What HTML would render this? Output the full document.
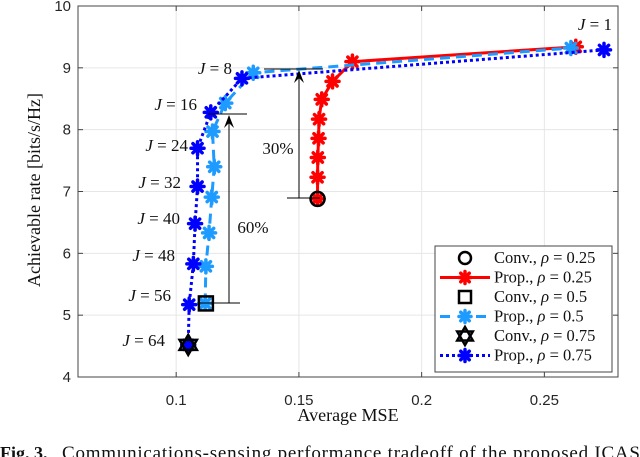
<!DOCTYPE html>
<html><head><meta charset="utf-8"><style>
body{margin:0;background:#fff;width:640px;height:457px;overflow:hidden}
svg{display:block}
.tk{font-family:"Liberation Sans",sans-serif;font-size:15px;fill:#262626}
.sr{font-family:"Liberation Serif",serif;fill:#111}
</style></head><body>
<svg id="chart" width="640" height="457" xmlns="http://www.w3.org/2000/svg"></svg>
<script>
const xTicks=[0.1,0.15,0.2,0.25];
const xTickLabels=["0.1","0.15","0.2","0.25"];
const yTicks=[4,5,6,7,8,9,10];
const yTickLabels=["4","5","6","7","8","9","10"];
const redX=[0.1576,0.1576,0.1577,0.158,0.1582,0.1593,0.1637,0.1718,0.2628];
const redY=[6.88,7.23,7.55,7.86,8.17,8.49,8.78,9.10,9.34];
const lbX=[0.1118,0.1121,0.1134,0.1145,0.1155,0.1148,0.120,0.1314,0.2608];
const lbY=[5.19,5.79,6.33,6.91,7.40,7.97,8.43,8.92,9.32];
const dbX=[0.1049,0.1053,0.107,0.1077,0.1087,0.1087,0.1141,0.1268,0.2743];
const dbY=[4.52,5.17,5.83,6.48,7.08,7.70,8.28,8.83,9.29];
const convX=[0.1576,0.1121,0.1049];
const convY=[6.88,5.19,4.52];
const jLabels=["J = 8","J = 16","J = 24","J = 32","J = 40","J = 48","J = 56","J = 64"];

const X0=78,X1=618,Y0=377,Y1=6;
const sx=v=>X0+(v-0.06)/(0.28-0.06)*(X1-X0);
const sy=v=>Y0-(v-4)/(10-4)*(Y0-Y1);
const svg=document.getElementById('chart');
const NS="http://www.w3.org/2000/svg";
function mk(tag,attrs,parent){const e=document.createElementNS(NS,tag);for(const k in attrs)e.setAttribute(k,attrs[k]);(parent||svg).appendChild(e);return e;}

const bg=mk('rect',{x:X0,y:Y1,width:X1-X0,height:Y0-Y1,fill:'#fff'});


xTicks.forEach((v,i)=>{
  const g=mk('line',{x1:sx(v),x2:sx(v),y1:Y1,y2:Y0,stroke:'#e6e6e6','stroke-width':1});
  
  
  mk('line',{x1:sx(v),x2:sx(v),y1:Y0,y2:Y0-5,stroke:'#444'});
  mk('line',{x1:sx(v),x2:sx(v),y1:Y1,y2:Y1+5,stroke:'#444'});
  const t=mk('text',{x:sx(v),y:Y0+28,'text-anchor':'middle',class:'tk'});t.textContent=xTickLabels[i];
  
  
});
yTicks.forEach((v,i)=>{
  const g=mk('line',{x1:X0,x2:X1,y1:sy(v),y2:sy(v),stroke:'#e6e6e6','stroke-width':1});
  
  
  mk('line',{x1:X0,x2:X0+5,y1:sy(v),y2:sy(v),stroke:'#444'});
  mk('line',{x1:X1,x2:X1-5,y1:sy(v),y2:sy(v),stroke:'#444'});
  const t=mk('text',{x:X0-7,y:sy(v)+5,'text-anchor':'end',class:'tk'});t.textContent=yTickLabels[i];
  
  
});
const fr=mk('rect',{x:X0,y:Y1,width:X1-X0,height:Y0-Y1,fill:'none',stroke:'#444','stroke-width':1});



function ast(cx,cy,col,r,parent){
  const g=mk('g',{},parent);
  for(let k=0;k<4;k++){const a=k*Math.PI/4;
    mk('line',{x1:cx-r*Math.cos(a),y1:cy-r*Math.sin(a),x2:cx+r*Math.cos(a),y2:cy+r*Math.sin(a),stroke:col,'stroke-width':3.5,'stroke-linecap':'round'},g);}
  mk('circle',{cx:cx,cy:cy,r:r*0.7,fill:col},g);
  return g;
}
function series(xs,ys,col,dash,name){
  const pts=xs.map((v,i)=>sx(v)+','+sy(ys[i])).join(' ');
  const l=mk('polyline',{points:pts,fill:'none',stroke:col,'stroke-width':3,'stroke-dasharray':dash});
  
  
  xs.forEach((v,i)=>{const m=ast(sx(v),sy(ys[i]),col,6.5);
    
    });
}
series(redX,redY,'#ff0000','none','prop-rho-025');
series(lbX,lbY,'#1e9bff','10,6','prop-rho-05');
series(dbX,dbY,'#0000ff','3,3','prop-rho-075');

function hexagram(cx,cy,r,parent){
  const p1=[],p2=[];
  for(let k=0;k<3;k++){const a=-Math.PI/2+k*2*Math.PI/3;p1.push((cx+r*Math.cos(a))+','+(cy+r*Math.sin(a)));
    const b=Math.PI/2+k*2*Math.PI/3;p2.push((cx+r*Math.cos(b))+','+(cy+r*Math.sin(b)));}
  const g=mk('g',{},parent);
  mk('polygon',{points:p1.join(' '),fill:'none',stroke:'#000','stroke-width':2.5},g);
  mk('polygon',{points:p2.join(' '),fill:'none',stroke:'#000','stroke-width':2.5},g);
  return g;
}
const c1=mk('circle',{cx:sx(convX[0]),cy:sy(convY[0]),r:7,fill:'none',stroke:'#000','stroke-width':2.5});


const s1=mk('rect',{x:sx(convX[1])-7,y:sy(convY[1])-7,width:14,height:14,fill:'none',stroke:'#000','stroke-width':2.5});


const h1=hexagram(sx(convX[2]),sy(convY[2]),10);



function arrow(x,yb,yt,hl,hr,bl,br,name){
  const g=mk('g',{});
  
  
  mk('line',{x1:x,x2:x,y1:yb,y2:yt+2,stroke:'#000','stroke-width':1},g);
  mk('line',{x1:hl,x2:hr,y1:yt,y2:yt,stroke:'#000','stroke-width':1},g);
  mk('line',{x1:bl,x2:br,y1:yb,y2:yb,stroke:'#000','stroke-width':1},g);
  mk('path',{d:`M${x-5},${yt+14} L${x},${yt+1} L${x+5},${yt+14} L${x},${yt+9} Z`,fill:'#000'},g);
}
arrow(299,198,69,264,323,287,320,'arrow-30-percent');
arrow(229,303,114,208,247,200,240,'arrow-60-percent');
const t30=mk('text',{x:278,y:154,'text-anchor':'middle',class:'sr','font-size':17});t30.textContent='30%';


const t60=mk('text',{x:253,y:233,'text-anchor':'middle',class:'sr','font-size':17});t60.textContent='60%';



const jPos=[[232,74],[197,110],[188,151],[181,188],[180,224],[175,261],[171,301],[165,346]];
jLabels.forEach((s,i)=>{
  const t=mk('text',{x:jPos[i][0],y:jPos[i][1],'text-anchor':'end',class:'sr','font-size':17});
  t.innerHTML='<tspan font-style="italic">J</tspan> = '+s.split('= ')[1];
  
  
});
const j1=mk('text',{x:612,y:30,'text-anchor':'end',class:'sr','font-size':17});
j1.innerHTML='<tspan font-style="italic">J</tspan> = 1';



const lg=mk('g',{});


mk('rect',{x:435,y:246,width:177,height:126,fill:'#fff',stroke:'#444','stroke-width':1},lg);
const legTxt=['Conv., ','Prop., ','Conv., ','Prop., ','Conv., ','Prop., '];
const legVal=['0.25','0.25','0.5','0.5','0.75','0.75'];
legTxt.forEach((s,i)=>{
  const y=258+i*19.5;
  const e=mk('g',{},lg);
  
  
  if(i==0) mk('circle',{cx:465,cy:y,r:6,fill:'none',stroke:'#000','stroke-width':2.5},e);
  if(i==2) mk('rect',{x:459,y:y-6,width:12,height:12,fill:'none',stroke:'#000','stroke-width':2.5},e);
  if(i==4) hexagram(465,y,9,e);
  if(i==1){mk('line',{x1:440,x2:490,y1:y,y2:y,stroke:'#ff0000','stroke-width':3},e);ast(465,y,'#ff0000',6,e);}
  if(i==3){mk('line',{x1:440,x2:490,y1:y,y2:y,stroke:'#1e9bff','stroke-width':3,'stroke-dasharray':'10,8'},e);ast(465,y,'#1e9bff',6,e);}
  if(i==5){mk('line',{x1:440,x2:490,y1:y,y2:y,stroke:'#0000ff','stroke-width':3,'stroke-dasharray':'3,3'},e);ast(465,y,'#0000ff',6,e);}
  const t=mk('text',{x:494,y:y+5,class:'sr','font-size':16.5},e);
  t.innerHTML=s+'<tspan font-style="italic">ρ</tspan> = '+legVal[i];
});

const xl=mk('text',{x:348,y:421,'text-anchor':'middle',class:'sr','font-size':18,fill:'#333'});xl.textContent='Average MSE';


const yl=mk('text',{x:0,y:0,'text-anchor':'middle',class:'sr','font-size':18,transform:'translate(40,190) rotate(-90)'});yl.textContent='Achievable rate [bits/s/Hz]';


const capB=mk('text',{x:0,y:459,class:'sr','font-size':18,'font-weight':'bold'});capB.textContent='Fig. 3.';


const cap=mk('text',{x:62,y:459,class:'sr','font-size':19,textLength:578,lengthAdjust:'spacing'});
cap.textContent='Communications-sensing performance tradeoff of the proposed ICAS';


</script>
</body></html>
